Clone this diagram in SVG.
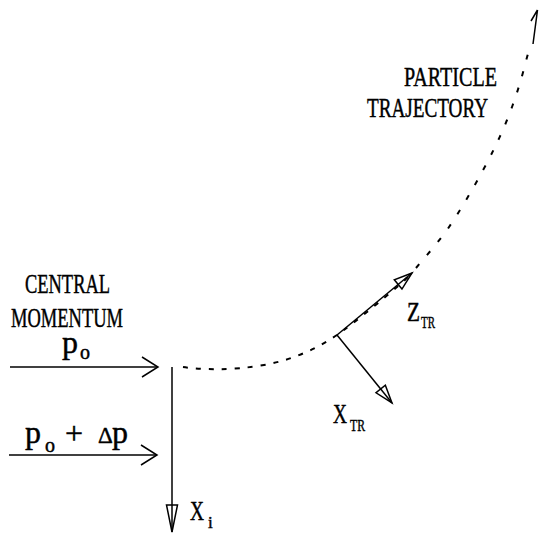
<svg xmlns="http://www.w3.org/2000/svg" width="539" height="536" viewBox="0 0 539 536">
<style>
.t{font-family:"Liberation Serif","Times New Roman",serif;fill:#000;stroke:#000;stroke-width:0.45}
.cap{font-size:27px}
.sub{font-size:17px}
.big{font-size:32px}
.ln{stroke:#000;stroke-width:1.5;fill:none}
.dl{stroke:#000;stroke-width:2;fill:none;stroke-dasharray:5 8}
.du{stroke:#000;stroke-width:2;fill:none;stroke-dasharray:5 12}
</style>
<defs>
<marker id="chev" markerUnits="userSpaceOnUse" markerWidth="1" markerHeight="1" refX="0" refY="0" orient="auto" overflow="visible">
<path d="M-16,-10 L0,0 L-16,10" fill="none" stroke="#000" stroke-width="1.5"/>
</marker>
<marker id="tri" markerUnits="userSpaceOnUse" markerWidth="1" markerHeight="1" refX="0" refY="0" orient="auto" overflow="visible">
<path d="M0,0 L-18,-6 L-18,6 Z" fill="none" stroke="#000" stroke-width="1.5" stroke-linejoin="miter"/>
</marker>
<marker id="triLong" markerUnits="userSpaceOnUse" markerWidth="1" markerHeight="1" refX="0" refY="0" orient="auto" overflow="visible">
<path d="M0,0 L-27,-5.5 L-27,5.5 Z" fill="none" stroke="#000" stroke-width="1.5" stroke-linejoin="miter"/>
</marker>
</defs>

<g id="connectors">
<line class="ln" x1="10" y1="367" x2="158" y2="367" marker-end="url(#chev)"/>
<line class="ln" x1="9" y1="455" x2="157" y2="455" marker-end="url(#chev)"/>
<line class="ln" x1="172" y1="367" x2="172" y2="532" marker-end="url(#triLong)"/>
<line class="ln" x1="337" y1="335" x2="412" y2="273" marker-end="url(#tri)"/>
<line class="ln" x1="337" y1="335" x2="392" y2="403" marker-end="url(#tri)"/>
<path id="trajectory-lower" class="dl" d="M183,367 C200,369.5 230,371 264,365 C290,360.5 315,350 337,335 C348,327.7 400.8,285.5 412,273"/>
<path id="trajectory-upper" class="du" d="M416,268 C426,256 436,245 447,230 C458.7,213.2 472,190.3 482,172 C492,153.7 499.8,137.8 507,120 C514.2,102.2 520,84.2 525,65 C527,57 528.5,52 529.5,48"/>
<path id="trajectory-tip" class="ln" stroke-width="2" d="M533,44 L537.5,10 M531,21 L537.5,10"/>
</g>

<g id="central-momentum">
<text class="t cap" x="25" y="293" textLength="85" lengthAdjust="spacingAndGlyphs">CENTRAL</text>
<text class="t cap" x="11" y="327" textLength="112" lengthAdjust="spacingAndGlyphs">MOMENTUM</text>
</g>

<g id="p0">
<text class="t big" x="62" y="353">p</text>
<text class="t" font-size="20" x="80" y="359">o</text>
</g>

<g id="p0-dp">
<text class="t big" x="25" y="443">p</text>
<text class="t" font-size="20" x="45" y="452">o</text>
<text class="t big" x="65" y="444">+</text>
<text class="t" font-size="23" x="98" y="443">Δ</text>
<text class="t big" x="112" y="443">p</text>
</g>

<g id="xi">
<text class="t cap" x="190" y="520" textLength="14" lengthAdjust="spacingAndGlyphs">X</text>
<text class="t sub" x="208" y="528">i</text>
</g>

<g id="particle-trajectory">
<text class="t cap" x="404" y="86" textLength="93" lengthAdjust="spacingAndGlyphs">PARTICLE</text>
<text class="t cap" x="367" y="117" textLength="121" lengthAdjust="spacingAndGlyphs">TRAJECTORY</text>
</g>

<g id="ztr">
<text class="t cap" x="407" y="321" textLength="13" lengthAdjust="spacingAndGlyphs">Z</text>
<text class="t sub" x="421" y="328" textLength="14" lengthAdjust="spacingAndGlyphs">TR</text>
</g>

<g id="xtr">
<text class="t cap" x="333" y="423" textLength="14" lengthAdjust="spacingAndGlyphs">X</text>
<text class="t sub" x="350" y="431" textLength="15" lengthAdjust="spacingAndGlyphs">TR</text>
</g>
</svg>
